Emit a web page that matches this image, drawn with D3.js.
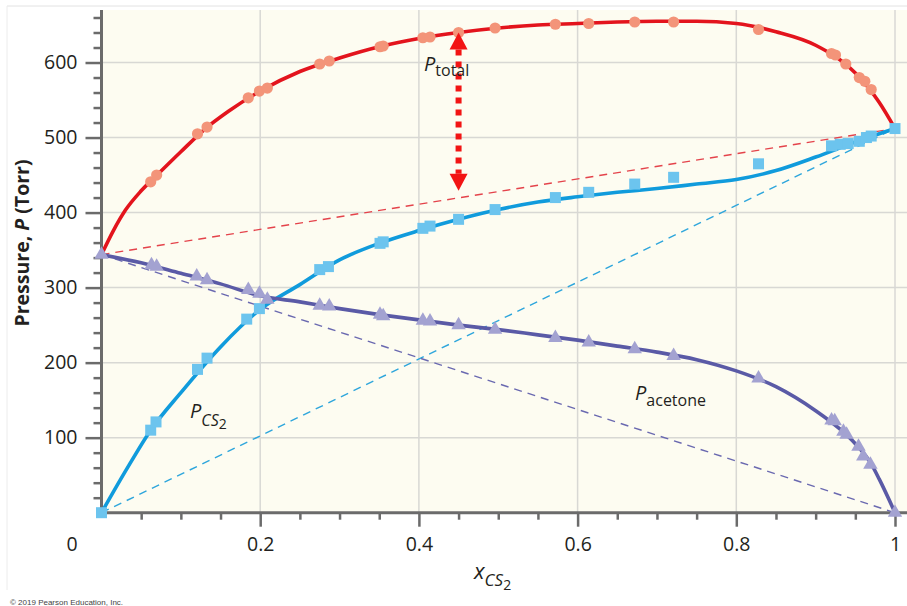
<!DOCTYPE html>
<html><head><meta charset="utf-8">
<script src="https://cdn.jsdelivr.net/npm/d3@7"></script>
<style>html,body{margin:0;padding:0;background:#fff;}svg{display:block;}</style>
</head><body>
<svg id="chart" width="907" height="606"></svg>
<script>
// ---- data ----
const xTickValues = [0, 0.2, 0.4, 0.6, 0.8, 1];
const xTickLabels = ["0", "0.2", "0.4", "0.6", "0.8", "1"];
const yTickValues = [100, 200, 300, 400, 500, 600];
const yTickLabels = ["100", "200", "300", "400", "500", "600"];

const totalPoints = [[0.062,441],[0.0695,450],[0.121,505],[0.133,514],[0.185,553],[0.199,562],[0.209,566],[0.275,598],[0.287,602],[0.351,621],[0.355,622],[0.405,633],[0.414,634],[0.450,640],[0.496,646],[0.572,651],[0.614,652],[0.672,654],[0.721,654],[0.828,644],[0.920,612],[0.925,610],[0.938,598],[0.955,580],[0.962,575],[0.970,564]];
const cs2Points = [[0,0],[0.062,110],[0.0687,121],[0.121,191],[0.133,206],[0.183,258],[0.199,272],[0.275,324],[0.286,328],[0.351,359],[0.355,361],[0.405,379],[0.414,382],[0.450,391],[0.496,404],[0.572,420],[0.614,427],[0.672,438],[0.721,447],[0.828,465],[0.920,489],[0.931,491],[0.941,492],[0.955,495],[0.964,500],[0.970,502],[1,512]];
const acetonePoints = [[0,344],[0.063,330],[0.0695,328],[0.120,315],[0.133,310],[0.185,297],[0.199,292],[0.209,284],[0.275,276],[0.287,275],[0.351,264],[0.355,262],[0.405,256],[0.414,255],[0.450,250],[0.496,244],[0.572,233],[0.614,227],[0.672,218],[0.721,209],[0.828,179],[0.920,123],[0.924,122],[0.935,108],[0.939,104],[0.954,88],[0.960,75],[0.969,64],[1,0]];

const totalCurve = [[0,344],[0.015,376],[0.03,403],[0.05,429],[0.07,450],[0.1,481],[0.13,511],[0.16,535],[0.2,562],[0.25,588],[0.3,606],[0.35,621],[0.4,632],[0.45,640],[0.5,646],[0.55,650],[0.6,652],[0.65,654],[0.7,655],[0.75,655],[0.8,652],[0.85,641],[0.9,623],[0.95,586],[0.98,547],[1,512]];
const cs2Curve = [[0,0],[0.03,55],[0.062,110],[0.1,160],[0.15,221],[0.2,271],[0.25,304],[0.3,337],[0.35,359],[0.4,376],[0.45,391],[0.5,404],[0.55,414],[0.6,421],[0.65,427],[0.7,432],[0.75,438],[0.8,444],[0.85,456],[0.9,474],[0.95,494],[1,512]];
const acetoneCurve = [[0,344],[0.05,333],[0.1,319],[0.15,305],[0.2,289],[0.25,281],[0.3,272],[0.35,264],[0.4,257],[0.45,250],[0.5,244],[0.55,237],[0.6,230],[0.65,222],[0.7,214],[0.75,204],[0.8,189],[0.85,168],[0.9,136],[0.93,112],[0.95,92],[0.97,65],[0.98,45],[1,0]];

const idealTotal = [[0,344],[1,512]];
const idealCS2 = [[0,0],[1,512]];
const idealAcetone = [[0,344],[1,0]];

const arrowX = 0.45;
const arrowEnds = [640, 429];

// ---- drawing ----
const svg = d3.select("#chart");
const font = "'Open Sans', 'Noto Sans', sans-serif";
const x = d3.scaleLinear().domain([0, 1]).range([101.5, 895]);
const y = d3.scaleLinear().domain([0, 670]).range([512.7, 10]);

// frame
svg.append("rect").attr("x", 103).attr("y", 10).attr("width", 804).attr("height", 503).attr("fill", "#fdfcf1");
svg.append("line").attr("x1", 7).attr("x2", 907).attr("y1", 6).attr("y2", 6).attr("stroke", "#e2e2e2").attr("stroke-width", 1);
svg.append("line").attr("x1", 7).attr("x2", 7).attr("y1", 6).attr("y2", 590).attr("stroke", "#ececec").attr("stroke-width", 1);

// grid
const grid = svg.append("g").attr("stroke", "#d8d8d4").attr("stroke-width", 1.5);
grid.selectAll(".gx").data(xTickValues.filter(d => d > 0)).join("line")
  .attr("x1", d => x(d)).attr("x2", d => x(d)).attr("y1", y(0)).attr("y2", 10);
grid.selectAll(".gy").data(yTickValues).join("line")
  .attr("x1", x(0)).attr("x2", 907).attr("y1", d => y(d)).attr("y2", d => y(d));

// axes
const axisColor = "#6b6b6b";
const yMinor = d3.range(20, 670, 20).filter(v => v % 100 !== 0);
const xMinor = d3.range(1, 20).map(i => i * 0.05).filter(v => Math.abs(v * 5 - Math.round(v * 5)) > 1e-6);

const yAxisMajor = d3.axisLeft(y).tickValues(yTickValues).tickSize(16).tickFormat((d, i) => yTickLabels[i]).tickPadding(8);
const gy = svg.append("g").attr("transform", `translate(${x(0)},0)`).call(yAxisMajor);
gy.select(".domain").remove();
gy.selectAll(".tick line").attr("stroke", axisColor).attr("stroke-width", 2.5);
gy.selectAll(".tick text").attr("font-family", font).attr("font-size", 19.5).attr("fill", "#231f20");
const gyMinor = svg.append("g").attr("transform", `translate(${x(0)},0)`).call(d3.axisLeft(y).tickValues(yMinor).tickSize(8).tickFormat(""));
gyMinor.select(".domain").remove();
gyMinor.selectAll(".tick line").attr("stroke", axisColor).attr("stroke-width", 2.5);

const xAxisMajor = d3.axisBottom(x).tickValues(xTickValues).tickSize(14).tickFormat((d, i) => xTickLabels[i]).tickPadding(10);
const gx = svg.append("g").attr("transform", `translate(0,${y(0)})`).call(xAxisMajor);
gx.select(".domain").remove();
gx.selectAll(".tick line").attr("stroke", axisColor).attr("stroke-width", 2.5);
gx.selectAll(".tick text").attr("font-family", font).attr("font-size", 19.5).attr("fill", "#231f20");
gx.selectAll(".tick").filter(d => d === 0).select("text").attr("dx", -30);
gx.selectAll(".tick").filter(d => d === 0).select("line").remove();
const gxMinor = svg.append("g").attr("transform", `translate(0,${y(0)})`).call(d3.axisBottom(x).tickValues(xMinor).tickSize(7).tickFormat(""));
gxMinor.select(".domain").remove();
gxMinor.selectAll(".tick line").attr("stroke", axisColor).attr("stroke-width", 2.5);

svg.append("line").attr("x1", x(0)).attr("x2", x(0)).attr("y1", 10).attr("y2", y(0) + 1.5).attr("stroke", axisColor).attr("stroke-width", 3);
svg.append("line").attr("x1", x(0) - 1.5).attr("x2", 907).attr("y1", y(0)).attr("y2", y(0)).attr("stroke", axisColor).attr("stroke-width", 3);

// lines
const straight = d3.line().x(d => x(d[0])).y(d => y(d[1]));
const smooth = d3.line().x(d => x(d[0])).y(d => y(d[1])).curve(d3.curveMonotoneX);

const plot = svg.append("g");
plot.append("path").attr("d", straight(idealTotal)).attr("fill", "none").attr("stroke", "#e4434b").attr("stroke-width", 1.4).attr("stroke-dasharray", "8,6");
plot.append("path").attr("d", straight(idealCS2)).attr("fill", "none").attr("stroke", "#2ea6dc").attr("stroke-width", 1.4).attr("stroke-dasharray", "8,6");
plot.append("path").attr("d", straight(idealAcetone)).attr("fill", "none").attr("stroke", "#6a69b0").attr("stroke-width", 1.4).attr("stroke-dasharray", "8,6");

plot.append("path").attr("d", smooth(totalCurve)).attr("fill", "none").attr("stroke", "#e3141d").attr("stroke-width", 3.6);
plot.selectAll(".tp").data(totalPoints).join("circle")
  .attr("cx", d => x(d[0])).attr("cy", d => y(d[1])).attr("r", 5.6).attr("fill", "#f39479");

plot.append("path").attr("d", smooth(cs2Curve)).attr("fill", "none").attr("stroke", "#109bdc").attr("stroke-width", 3.6);
plot.selectAll(".cp").data(cs2Points).join("rect")
  .attr("x", d => x(d[0]) - 5.5).attr("y", d => y(d[1]) - 5.5).attr("width", 11).attr("height", 11).attr("fill", "#6cc4ee");

plot.append("path").attr("d", smooth(acetoneCurve)).attr("fill", "none").attr("stroke", "#5a5aa6").attr("stroke-width", 3.6);
const tri = d3.symbol().type(d3.symbolTriangle).size(90);
plot.selectAll(".ap").data(acetonePoints).join("path")
  .attr("d", tri).attr("transform", d => `translate(${x(d[0])},${y(d[1])})`).attr("fill", "#a3a2d1");

// arrow
const ax = x(arrowX), aTop = y(arrowEnds[0]), aBot = y(arrowEnds[1]);
const headH = 17, headW = 18;
svg.append("line").attr("x1", ax).attr("x2", ax).attr("y1", aTop + headH).attr("y2", aBot - headH)
  .attr("stroke", "#f21414").attr("stroke-width", 6).attr("stroke-dasharray", "6,6");
svg.append("path").attr("d", `M${ax},${aTop}L${ax - headW / 2},${aTop + headH}L${ax + headW / 2},${aTop + headH}Z`).attr("fill", "#f21414");
svg.append("path").attr("d", `M${ax},${aBot}L${ax - headW / 2},${aBot - headH}L${ax + headW / 2},${aBot - headH}Z`).attr("fill", "#f21414");

// curve labels
function label(px, py, parts) {
  const t = svg.append("text").attr("x", px).attr("y", py).attr("font-family", font).attr("fill", "#231f20");
  parts.forEach(p => {
    const s = t.append("tspan").text(p.t).attr("font-size", p.s);
    if (p.i) s.attr("font-style", "italic");
    if (p.dy) s.attr("dy", p.dy);
  });
  return t;
}
label(424, 71, [{t: "P", s: 20, i: true}, {t: "total", s: 16, dy: 5}]);
label(190, 418, [{t: "P", s: 20, i: true}, {t: "CS", s: 16, i: true, dy: 8}, {t: "2", s: 14, dy: 3}]);
label(635, 400, [{t: "P", s: 20, i: true}, {t: "acetone", s: 16, dy: 6}]);

// axis titles
label(474, 579, [{t: "x", s: 22, i: true}, {t: "CS", s: 17, i: true, dy: 7}, {t: "2", s: 14, dy: 4}]);
const yt = svg.append("text").attr("transform", "translate(29,243) rotate(-90)").attr("text-anchor", "middle")
  .attr("font-family", font).attr("font-size", 19.5).attr("font-weight", "bold").attr("fill", "#231f20");
yt.append("tspan").text("Pressure, ");
yt.append("tspan").text("P").attr("font-style", "italic");
yt.append("tspan").text(" (Torr)");

svg.append("text").attr("x", 10).attr("y", 605).attr("font-family", "'Liberation Sans', Arial, sans-serif")
  .attr("font-size", 8).attr("fill", "#444").text("© 2019 Pearson Education, Inc.");
</script>
</body></html>
